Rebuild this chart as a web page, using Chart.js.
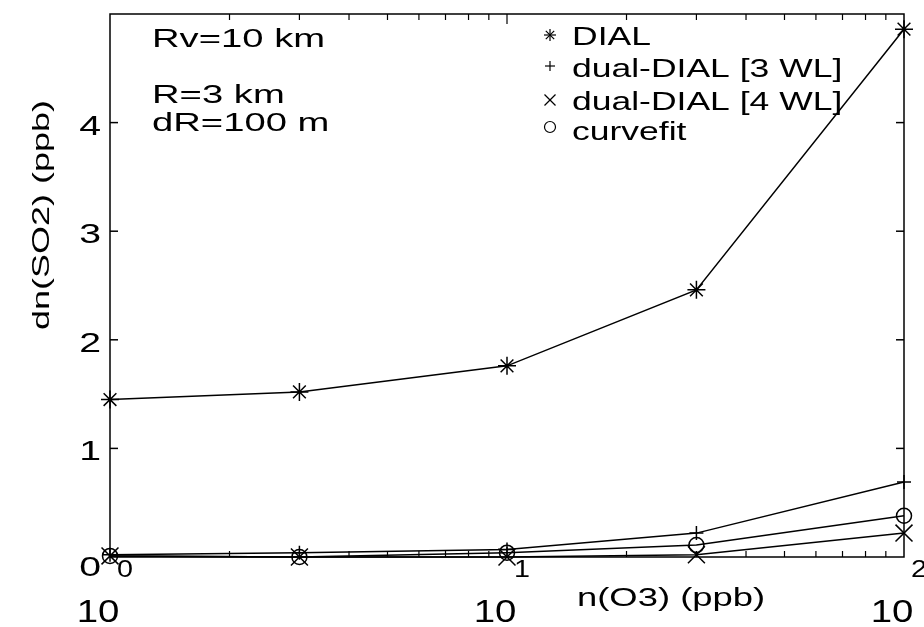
<!DOCTYPE html>
<html>
<head>
<meta charset="utf-8">
<script src="https://cdn.jsdelivr.net/npm/chart.js@4.4.1/dist/chart.umd.min.js"></script>
<style>
html,body{margin:0;padding:0;background:#fff;}
#wrap{width:924px;height:627px;}
</style>
</head>
<body>
<div id="wrap"><canvas id="c" width="924" height="627"></canvas></div>
<script>
// ---- data ----
const xVals    = [1, 3, 10, 30, 100];            // n(O3) (ppb)
const dial     = [1.45, 1.52, 1.76, 2.46, 4.86];
const dual3    = [0.02, 0.04, 0.07, 0.22, 0.69];
const dual4    = [0.01, 0.00, 0.00, 0.02, 0.22];
const curvefit = [0.01, 0.00, 0.04, 0.11, 0.38];
const seriesNames = ['DIAL', 'dual-DIAL [3 WL]', 'dual-DIAL [4 WL]', 'curvefit'];
const yTickVals = [0, 1, 2, 3, 4];
const xMajorVals = [1, 10, 100];
const xMajorExps = ['0', '1', '2'];
const xMinorVals = [2,3,4,5,6,7,8,9,20,30,40,50,60,70,80,90];
const notes = ['Rv=10 km', 'R=3 km', 'dR=100 m'];

const FONT = '"Liberation Sans", Arial, Helvetica, sans-serif';
function pts(ys){ return xVals.map((x,i)=>({x:x, y:ys[i]})); }
function txt(ctx, s, x, y, size, sx, align){
  ctx.save();
  ctx.font = size + 'px ' + FONT;
  ctx.fillStyle = '#000';
  ctx.translate(x, y);
  ctx.scale(sx, 1);
  ctx.textAlign = align || 'left';
  ctx.textBaseline = 'alphabetic';
  ctx.fillText(s, 0, 0);
  ctx.restore();
}
function line(ctx,x1,y1,x2,y2){ ctx.beginPath(); ctx.moveTo(x1,y1); ctx.lineTo(x2,y2); ctx.stroke(); }

const deco = {
  id: 'deco',
  afterDraw(chart){
    const ctx = chart.ctx, a = chart.chartArea;
    const xs = chart.scales.x, ys = chart.scales.y;
    ctx.save();
    ctx.strokeStyle = '#000';
    ctx.lineWidth = 1.5;
    // axes box
    ctx.strokeRect(a.left, a.top, a.right - a.left, a.bottom - a.top);
    // inner y ticks
    yTickVals.concat([5]).forEach(v=>{
      if (v === 0 || v === 5) return;
      const py = ys.getPixelForValue(v);
      line(ctx, a.left, py, a.left + 8, py);
      line(ctx, a.right, py, a.right - 8, py);
    });
    // inner x ticks
    ctx.lineWidth = 1.2;
    xMinorVals.forEach(v=>{
      const px = xs.getPixelForValue(v);
      line(ctx, px, a.bottom, px, a.bottom - 6);
      line(ctx, px, a.top, px, a.top + 6);
    });
    [10].forEach(v=>{
      const px = xs.getPixelForValue(v);
      line(ctx, px, a.bottom, px, a.bottom - 10);
      line(ctx, px, a.top, px, a.top + 10);
    });
    // y tick labels
    yTickVals.forEach(v=>{
      const py = ys.getPixelForValue(v);
      txt(ctx, String(v), 101, py + (v === 0 ? 19 : 12), 28, 1.4, 'right');
    });
    // x tick labels 10^k
    xMajorVals.forEach((v,i)=>{
      const px = xs.getPixelForValue(v);
      txt(ctx, '10', px - 12, 622, 32, 1.2, 'center');
      txt(ctx, xMajorExps[i], px + 7, 577, 23, 1.25, 'left');
    });
    // axis titles
    txt(ctx, 'n(O3) (ppb)', 577, 606, 26, 1.4, 'left');
    ctx.save();
    ctx.translate(49, 215);
    ctx.rotate(-Math.PI/2);
    ctx.scale(1.5, 1);
    ctx.font = '24px ' + FONT;
    ctx.fillStyle = '#000';
    ctx.textAlign = 'center';
    ctx.textBaseline = 'alphabetic';
    ctx.fillText('dn(SO2) (ppb)', 0, 0);
    ctx.restore();
    // notes
    txt(ctx, notes[0], 152, 47, 26, 1.47, 'left');
    txt(ctx, notes[1], 152, 103, 26, 1.47, 'left');
    txt(ctx, notes[2], 152, 131, 26, 1.47, 'left');
    // legend
    const lx = 550, tx = 572;
    const rows = [{y:45, my:35}, {y:77, my:66}, {y:110, my:100}, {y:140, my:127}];
    ctx.lineWidth = 1.2;
    // asterisk
    let m = rows[0].my, r = 6;
    line(ctx, lx - r, m, lx + r, m); line(ctx, lx, m - r, lx, m + r);
    line(ctx, lx - r*0.7, m - r*0.7, lx + r*0.7, m + r*0.7);
    line(ctx, lx - r*0.7, m + r*0.7, lx + r*0.7, m - r*0.7);
    // plus
    m = rows[1].my; r = 5;
    line(ctx, lx - r, m, lx + r, m); line(ctx, lx, m - r, lx, m + r);
    // cross
    m = rows[2].my; r = 5.5;
    line(ctx, lx - r, m - r, lx + r, m + r); line(ctx, lx - r, m + r, lx + r, m - r);
    // circle
    m = rows[3].my;
    ctx.beginPath(); ctx.arc(lx, m, 5.5, 0, Math.PI*2); ctx.stroke();
    seriesNames.forEach((n,i)=> txt(ctx, n, tx, rows[i].y, 25, 1.42, 'left'));
    ctx.restore();
  }
};

const common = { borderColor:'#000', borderWidth:1.5, pointBorderColor:'#000',
                 pointBackgroundColor:'rgba(0,0,0,0)', pointBorderWidth:1.5,
                 fill:false, tension:0, clip:false };

new Chart(document.getElementById('c'), {
  type: 'line',
  data: {
    datasets: [
      Object.assign({label: seriesNames[0], data: pts(dial), pointStyle:'star', pointRadius:9}, common),
      Object.assign({label: seriesNames[1], data: pts(dual3), pointStyle:'cross', pointRadius:7}, common),
      Object.assign({label: seriesNames[2], data: pts(dual4), pointStyle:'crossRot', pointRadius:12}, common),
      Object.assign({label: seriesNames[3], data: pts(curvefit), pointStyle:'circle', pointRadius:7.5}, common)
    ]
  },
  options: {
    responsive: false,
    animation: false,
    layout: { padding: { left: 0, top: 14, right: 20, bottom: 0 } },
    plugins: { legend: { display: false }, tooltip: { enabled: false } },
    scales: {
      x: {
        type: 'logarithmic', min: 1, max: 100,
        ticks: { display: false }, grid: { display: false }, border: { display: false },
        afterFit(s){ s.height = 70; }
      },
      y: {
        type: 'linear', min: 0, max: 5,
        ticks: { display: false, stepSize: 1 }, grid: { display: false }, border: { display: false },
        afterFit(s){ s.width = 110; }
      }
    }
  },
  plugins: [deco]
});
</script>
</body>
</html>
